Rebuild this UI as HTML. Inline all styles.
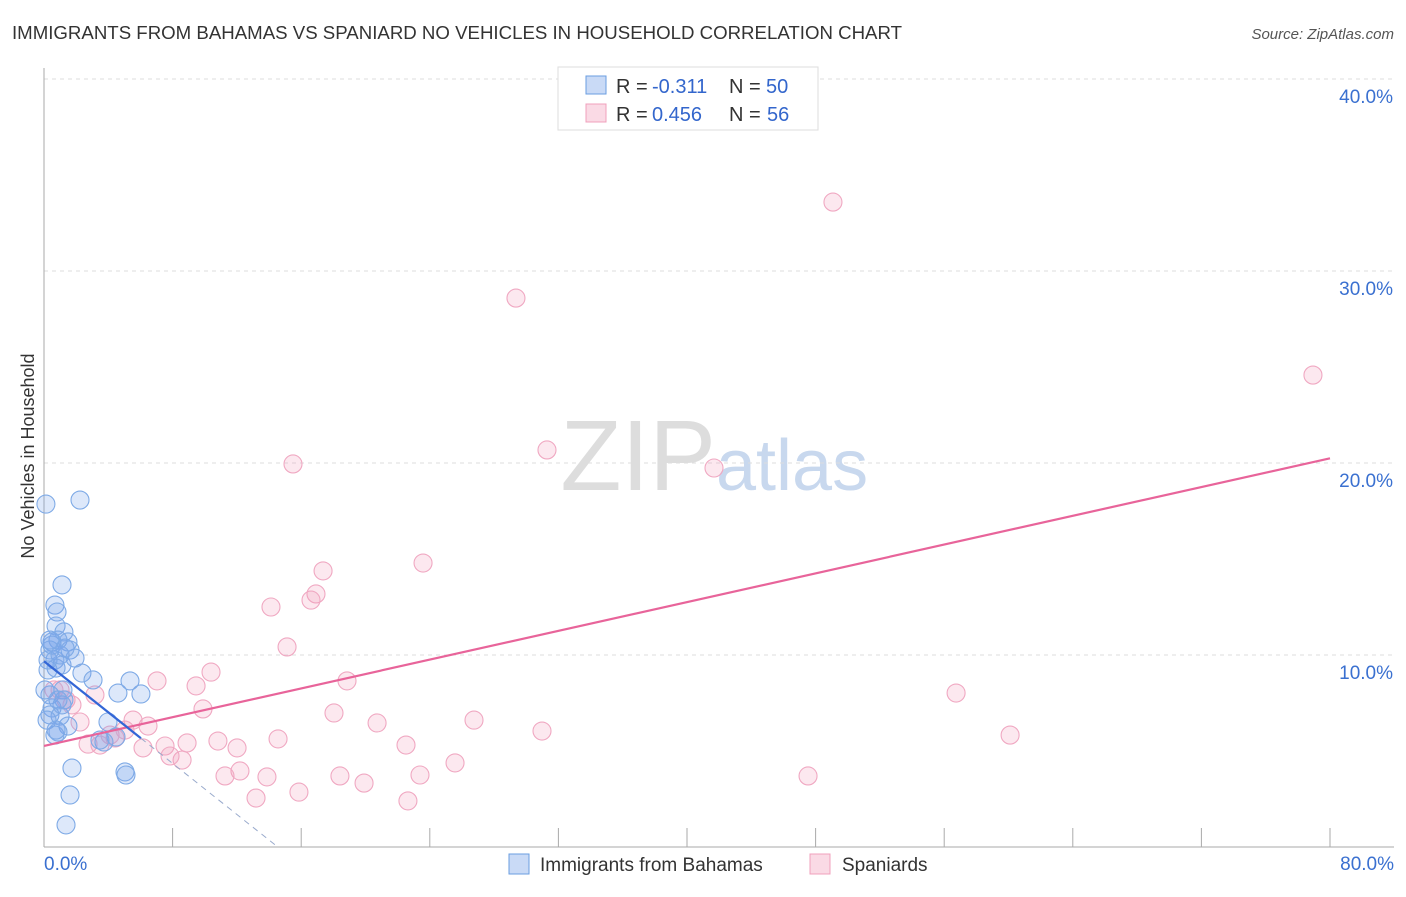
<!DOCTYPE html>
<html><head><meta charset="utf-8"><style>
body{margin:0;background:#fff;font-family:"Liberation Sans",sans-serif}
svg text{font-family:"Liberation Sans",sans-serif}
</style></head><body>
<svg id="chart" width="1406" height="892">
<text x="12" y="39" font-size="18" fill="#333" textLength="890" lengthAdjust="spacingAndGlyphs">IMMIGRANTS FROM BAHAMAS VS SPANIARD NO VEHICLES IN HOUSEHOLD CORRELATION CHART</text>
<text x="1394" y="39" font-size="15" fill="#555" font-style="italic" text-anchor="end">Source: ZipAtlas.com</text>
<text x="716" y="490" font-size="100" fill="#ddd" text-anchor="end" font-family="Liberation Serif">ZIP</text>
<text x="716" y="490" font-size="72" fill="#c8d8ee">atlas</text>
<g id="grid"></g>
<g id="axes"></g>
<g id="pts"></g>
<g id="lines"></g>
<text transform="translate(34,456) rotate(-90)" font-size="18" fill="#333" text-anchor="middle">No Vehicles in Household</text>
<g>
<rect x="558" y="67" width="260" height="63" fill="#fff" stroke="#ddd"/>
<rect x="586" y="76" width="20" height="18" fill="rgba(100,150,230,0.35)" stroke="#6a9ee0"/>
<rect x="586" y="104" width="20" height="18" fill="rgba(240,150,180,0.35)" stroke="#f0a0bc"/>
<text y="93" font-size="20" fill="#333"><tspan x="616">R =</tspan><tspan x="652" fill="#3366cc">-0.311</tspan><tspan x="729">N =</tspan><tspan x="766" fill="#3366cc">50</tspan></text>
<text y="121" font-size="20" fill="#333"><tspan x="616">R =</tspan><tspan x="652" fill="#3366cc">0.456</tspan><tspan x="729">N =</tspan><tspan x="767" fill="#3366cc">56</tspan></text>
</g>
<g>
<rect x="509" y="854" width="20" height="20" fill="rgba(100,150,230,0.35)" stroke="#6a9ee0"/>
<text x="540" y="871" font-size="19" fill="#333">Immigrants from Bahamas</text>
<rect x="810" y="854" width="20" height="20" fill="rgba(240,150,180,0.35)" stroke="#f0a0bc"/>
<text x="842" y="871" font-size="19" fill="#333">Spaniards</text>
</g>
</svg>
<script>
const blueX=[.12,2.24,1.12,.68,.81,.75,1.24,.87,.5,1.49,1.62,.37,.68,1.12,.25,.75,2.36,3.05,5.35,1.18,.37,4.6,6.03,1.24,.5,.37,1,3.98,1.49,.87,.68,4.48,3.73,5.04,5.1,1.74,1.62,1.37,.25,.5,1,1.93,.06,1.12,.19,.75,3.48,.37,1.31,.87];
const blueY=[17.86,18.07,13.65,12.6,12.24,11.51,11.2,10.78,10.68,10.68,10.26,10.26,9.74,9.48,9.22,9.32,9.06,8.7,8.65,8.18,7.92,8.02,7.97,7.66,7.24,6.88,6.82,6.51,6.3,5.99,5.83,5.73,5.47,3.91,3.75,4.11,2.71,1.15,9.74,10.52,10,9.84,8.18,7.4,6.61,6.09,5.57,10.78,10.36,7.66];
const pinkX=[49.08,29.36,78.94,31.29,15.49,41.68,23.58,17.36,16.92,16.61,14.12,15.12,10.39,7.03,9.46,18.85,3.17,1,9.89,18.04,56.74,26.75,20.72,6.47,2.24,5.54,30.98,14.56,60.1,8.9,10.82,22.52,12.01,4.42,7.53,8.59,6.16,25.57,12.19,11.26,13.87,18.41,23.39,19.91,47.53,15.86,13.19,22.64,2.74,7.84,4.11,1.37,1.74,.62,3.48,5.04];
const pinkY=[33.59,28.59,24.58,20.68,19.95,19.74,14.79,14.38,13.18,12.86,12.5,10.42,9.11,8.65,8.39,8.65,7.92,8.18,7.19,6.98,8.02,6.61,6.46,6.3,6.51,6.61,6.04,5.63,5.83,5.42,5.52,5.31,5.16,5.68,5.26,4.53,5.16,4.38,3.96,3.7,3.65,3.7,3.75,3.33,3.7,2.86,2.55,2.4,5.36,4.74,5.83,7.66,7.4,8.18,5.31,6.09];
const yTicks=[10,20,30,40];
const xTickLabels=["0.0%","80.0%"];
const NS="http://www.w3.org/2000/svg";
const sx=v=>44+v/80*1286, sy=v=>847-v*19.2;
function mk(t,a,p){const e=document.createElementNS(NS,t);for(const k in a)e.setAttribute(k,a[k]);p.appendChild(e);return e;}
const grid=document.getElementById('grid'),axes=document.getElementById('axes'),pts=document.getElementById('pts'),lines=document.getElementById('lines');
yTicks.forEach(v=>{
 const l=mk('line',{x1:44,x2:1394,y1:sy(v),y2:sy(v),stroke:'#ddd','stroke-dasharray':'4,4'},grid);
 
 
 const t=mk('text',{x:1393,y:sy(v)+24,'font-size':19,fill:'#3a70d0','text-anchor':'end'},axes);t.textContent=v.toFixed(1)+'%';
 
 
});
let a=mk('line',{x1:44,x2:44,y1:68,y2:847,stroke:'#aaa'},axes);


a=mk('line',{x1:44,x2:1394,y1:847,y2:847,stroke:'#aaa'},axes);


for(let i=0;i<=10;i++){const tk=mk('line',{x1:sx(i*8),x2:sx(i*8),y1:828,y2:847,stroke:'#aaa'},axes);
 
 }
[[0,44,'start'],[80,1394,'end']].forEach((d,i)=>{const t=mk('text',{x:d[1],y:870,'font-size':19,fill:'#3a70d0','text-anchor':d[2]},axes);t.textContent=xTickLabels[i];
 
 });
function dots(X,Y,fill,stroke,name){X.forEach((x,i)=>{const c=mk('circle',{cx:sx(x),cy:sy(Y[i]),r:9,fill:fill,stroke:stroke,'stroke-width':1.1},pts);
 
 });}
dots(pinkX,pinkY,'rgba(240,150,180,0.22)','#f0a8c2','point-spaniards');
dots(blueX,blueY,'rgba(120,165,235,0.25)','#7eaae6','point-bahamas');
function reg(X,Y){const n=X.length,mx=X.reduce((a,b)=>a+b)/n,my=Y.reduce((a,b)=>a+b)/n;let sxy=0,sxx=0;X.forEach((x,i)=>{sxy+=(x-mx)*(Y[i]-my);sxx+=(x-mx)**2});const b=sxy/sxx;return[my-b*mx,b];}
const [pa,pb]=reg(pinkX,pinkY);
let ln=mk('line',{x1:sx(0),y1:sy(pa),x2:sx(80),y2:sy(pa+pb*80),stroke:'#e8649a','stroke-width':2.2},lines);


const [ba,bb]=reg(blueX,blueY);const bmax=Math.max(...blueX);const xz=-ba/bb;
ln=mk('line',{x1:sx(0),y1:sy(ba),x2:sx(bmax),y2:sy(ba+bb*bmax),stroke:'#3366d6','stroke-width':2.2},lines);


ln=mk('line',{x1:sx(bmax),y1:sy(ba+bb*bmax),x2:sx(xz),y2:sy(0),stroke:'#99aacc','stroke-width':1,'stroke-dasharray':'6,5'},lines);


</script>
</body></html>
